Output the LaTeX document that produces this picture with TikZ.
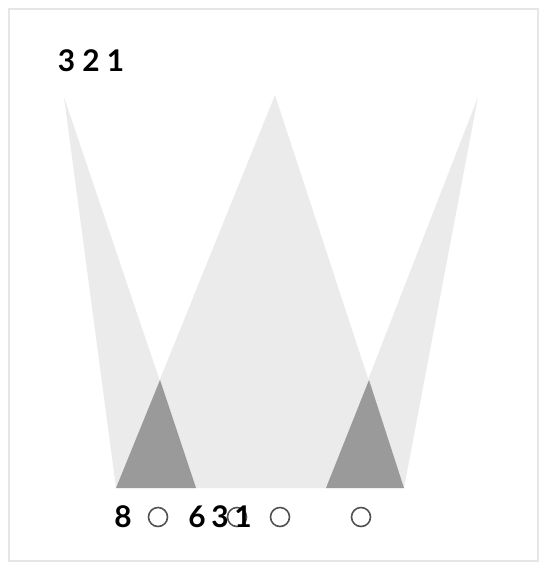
\documentclass[tikz,border=0pt]{standalone}
\usepackage{fontspec}
\setmainfont{Lato}
\definecolor{lightcone}{RGB}{235,235,235}
\definecolor{darkcone}{RGB}{154,154,154}
\definecolor{frameline}{RGB}{230,230,230}
\definecolor{ringline}{RGB}{80,80,80}
\tikzset{
  digit/.style={font=\fontsize{17}{20}\selectfont\bfseries, inner sep=0pt},
  ring/.style={circle, draw=ringline, line width=0.9pt, minimum size=19*0.02cm, inner sep=0pt}
}
\begin{document}
\begin{tikzpicture}[x=0.02cm,y=-0.02cm]
   \useasboundingbox (0,0) rectangle (545,568);
   \draw[frameline, line width=1.2pt] (9,9) rectangle (538,561);

   % cones
   \fill[lightcone] (64,97) -- (116,488) -- (196,488) -- cycle;
   \fill[lightcone] (275,95) -- (116,488) -- (404,488) -- cycle;
   \fill[lightcone] (478,97) -- (326,488) -- (404,488) -- cycle;

   % overlaps
   \fill[darkcone] (160,380) -- (116,488) -- (196,488) -- cycle;
   \fill[darkcone] (369,380) -- (326,488) -- (404,488) -- cycle;

   \node[digit] (top) at (91,61) {3 2 1};

   \foreach \x/\n in {158/a,237/b,280/c,361/d}
   \node[ring] (r\n) at (\x,517) {};

   \node[digit] (n8) at (123,517) {8};
   \node[digit] (n6) at (197,517) {6};
   \node[digit] (n3) at (220,517) {3};
   \node[digit] (n1) at (243,517) {1};
\end{tikzpicture}
\end{document}
